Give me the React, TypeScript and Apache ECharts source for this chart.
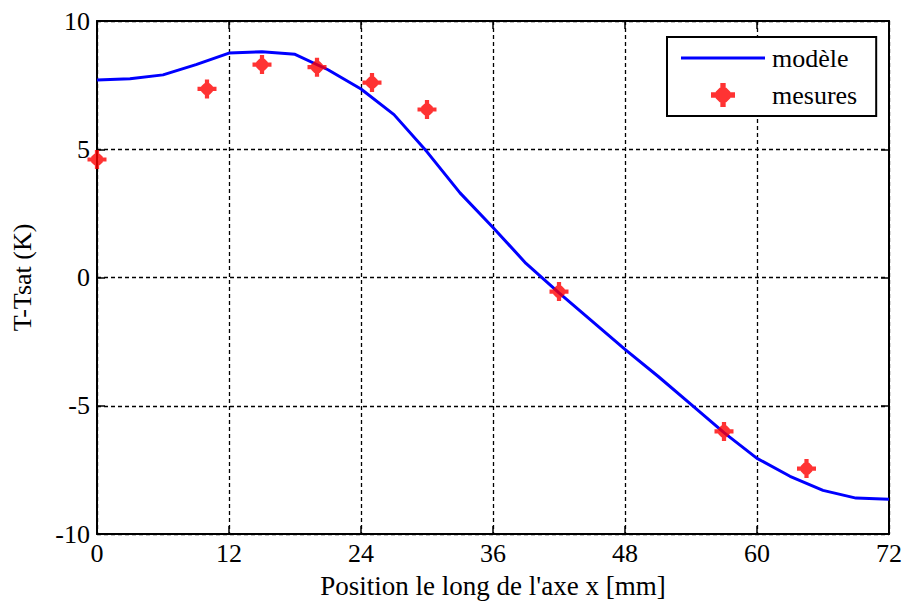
import React, { useEffect, useRef } from "react";
import * as echarts from "echarts";

const modelX = [0, 3, 6, 9, 12, 15, 18, 21, 24, 27, 30, 33, 36, 39, 42, 45, 48, 51, 54, 57, 60, 63, 66, 69, 72];
const modelY = [7.7, 7.75, 7.9, 8.3, 8.75, 8.8, 8.7, 8.1, 7.35, 6.35, 4.9, 3.3, 1.95, 0.55, -0.6, -1.7, -2.8, -3.85, -4.95, -6.05, -7.05, -7.75, -8.3, -8.6, -8.65];
const measX = [0, 10, 15, 20, 25, 30, 42, 57, 64.5];
const measY = [4.6, 7.35, 8.3, 8.2, 7.6, 6.55, -0.55, -6.0, -7.45];
const seriesNames = ["modèle", "mesures"];

const STAR =
  "path://M-2,-9 L2,-9 L2,-2 L9,-2 L9,2 L2,2 L2,9 L-2,9 L-2,2 L-9,2 L-9,-2 L-2,-2 Z M-2.5,-5.5 L2.5,-5.5 L5.5,-2.5 L5.5,2.5 L2.5,5.5 L-2.5,5.5 L-5.5,2.5 L-5.5,-2.5 Z";
const LINE_ICON = "path://M0,0 L84,0 L84,3.2 L0,3.2 Z";

const FONT = "Liberation Serif";

export default function App() {
  const ref = useRef<HTMLDivElement>(null);
  useEffect(() => {
    if (!ref.current) return;
    const chart = echarts.init(ref.current, null, { renderer: "svg" });
    const axisLine = { show: true, onZero: false, lineStyle: { color: "#000", width: 2 } };
    const splitLine = { show: true, lineStyle: { color: "#000", width: 1.3, type: [4, 3] as any } };
    const labelStyle = { color: "#000", fontFamily: FONT, fontSize: 26 };
    const tick = { show: true, inside: true, length: 8, lineStyle: { color: "#000", width: 1.5 } };
    chart.setOption({
      animation: false,
      backgroundColor: "#fff",
      textStyle: { fontFamily: FONT },
      grid: { left: 97, top: 21, right: 19, bottom: 69, containLabel: false, outerBoundsMode: "none" },
      xAxis: [
        {
          type: "value",
          min: 0,
          max: 72,
          interval: 12,
          position: "bottom",
          axisLine,
          axisTick: tick,
          axisLabel: { ...labelStyle, margin: 6 },
          splitLine,
          name: "Position le long de l'axe x [mm]",
          nameLocation: "middle",
          nameGap: 38,
          nameTextStyle: { color: "#000", fontFamily: FONT, fontSize: 27 },
        },
        {
          type: "value",
          min: 0,
          max: 72,
          interval: 12,
          position: "top",
          axisLine,
          axisTick: tick,
          axisLabel: { show: false },
          splitLine: { show: false },
        },
      ],
      yAxis: [
        {
          type: "value",
          min: -10,
          max: 10,
          interval: 5,
          position: "left",
          axisLine,
          axisTick: tick,
          axisLabel: { ...labelStyle, margin: 7 },
          splitLine,
          name: "T-Tsat (K)",
          nameLocation: "middle",
          nameGap: 62,
          nameRotate: 90,
          nameTextStyle: { color: "#000", fontFamily: FONT, fontSize: 26 },
        },
        {
          type: "value",
          min: -10,
          max: 10,
          interval: 5,
          position: "right",
          axisLine,
          axisTick: tick,
          axisLabel: { show: false },
          splitLine: { show: false },
        },
      ],
      legend: {
        orient: "vertical",
        left: 667,
        top: 37,
        padding: [8, 19, 8, 14],
        itemGap: 11,
        itemWidth: 84,
        itemHeight: 24,
        borderColor: "#000",
        borderWidth: 2,
        borderRadius: 0,
        backgroundColor: "#fff",
        textStyle: { color: "#000", fontFamily: FONT, fontSize: 26, padding: [0, 0, 0, 2] },
        data: [
          { name: seriesNames[0], icon: LINE_ICON, itemStyle: { color: "#0000ff" } },
          { name: seriesNames[1] },
        ],
      },
      series: [
        {
          name: seriesNames[0],
          type: "line",
          data: modelX.map((x, i) => [x, modelY[i]]),
          showSymbol: false,
          symbol: "none",
          lineStyle: { color: "#0000ff", width: 3 },
          itemStyle: { color: "#0000ff" },
          clip: false,
          z: 3,
        },
        {
          name: seriesNames[1],
          type: "scatter",
          data: measX.map((x, i) => [x, measY[i]]),
          symbol: STAR,
          symbolSize: 19,
          itemStyle: { color: "#ff0000" },
          clip: false,
          z: 4,
        },
      ],
    });
    return () => chart.dispose();
  }, []);
  return <div ref={ref} style={{ width: 908, height: 603, position: "absolute", left: 0, top: 0 }} />;
}
